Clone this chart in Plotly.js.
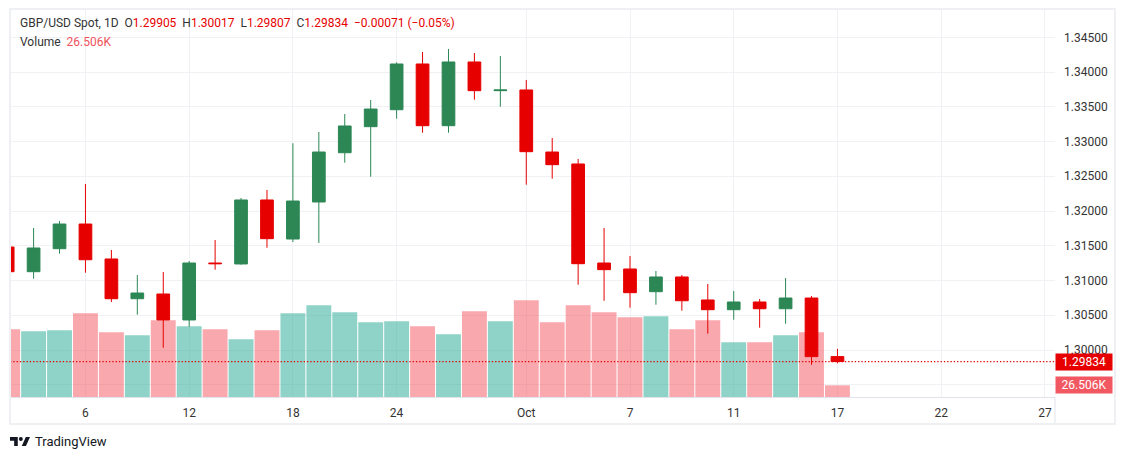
<!DOCTYPE html>
<html><head><meta charset="utf-8">
<script src="https://cdn.plot.ly/plotly-3.0.1.min.js"></script>
<style>
html,body{margin:0;padding:0;background:#fff;}
#wrap{position:relative;width:1125px;height:460px;}
#chart{width:1125px;height:460px;}
#frame{position:absolute;left:9px;top:8px;width:1107px;height:417px;box-sizing:border-box;border:2px solid #eef0f3;pointer-events:none;}
#logo{position:absolute;left:10px;top:437px;}
</style></head>
<body>
<div id="wrap">
<div id="chart"></div>
<div id="frame"></div>
<svg id="logo" width="20" height="9" viewBox="0 0 36 16"><path d="M0 0h14v16h-6.5V6.5H0z" fill="#131722"/><circle cx="19.5" cy="3.6" r="3.6" fill="#131722"/><path d="M28.5 0h7.5l-7.3 16h-7.5z" fill="#131722"/></svg>
</div>
<script>
const dates = ['2024-09-03','2024-09-04','2024-09-05','2024-09-06','2024-09-09','2024-09-10','2024-09-11','2024-09-12','2024-09-13',
  '2024-09-16','2024-09-17','2024-09-18','2024-09-19','2024-09-20','2024-09-23','2024-09-24','2024-09-25','2024-09-26','2024-09-27',
  '2024-09-30','2024-10-01','2024-10-02','2024-10-03','2024-10-04','2024-10-07','2024-10-08','2024-10-09','2024-10-10','2024-10-11',
  '2024-10-14','2024-10-15','2024-10-16','2024-10-17'];
const opens  = [1.31482,1.31127,1.31458,1.31813,1.31310,1.30738,1.30806,1.30432,1.31252,1.31238,1.32159,1.31597,1.32130,1.32839,1.33214,1.33458,1.34116,1.33228,1.34145,1.33732,1.33742,1.32849,1.32677,1.31252,1.31166,1.30839,1.31051,1.30720,1.30580,1.30691,1.30594,1.30748,1.29905];
const highs  = [1.31497,1.31756,1.31856,1.32389,1.31439,1.31079,1.31122,1.31281,1.31583,1.32188,1.32303,1.32975,1.33137,1.33396,1.33598,1.34140,1.34288,1.34332,1.34274,1.34231,1.33886,1.33051,1.32749,1.31756,1.31353,1.31137,1.31079,1.30950,1.30849,1.30734,1.31036,1.30777,1.30017];
const lows   = [1.31122,1.31026,1.31386,1.31112,1.30691,1.30508,1.30033,1.30335,1.31156,1.31228,1.31472,1.31554,1.31540,1.32695,1.32494,1.33329,1.33127,1.33127,1.33602,1.33501,1.32379,1.32465,1.30940,1.30709,1.30609,1.30652,1.30566,1.30235,1.30436,1.30321,1.30378,1.29788,1.29807];
const closes = [1.31127,1.31468,1.31813,1.31299,1.30738,1.30820,1.30432,1.31252,1.31242,1.32159,1.31602,1.32144,1.32849,1.33224,1.33468,1.34116,1.33228,1.34145,1.33732,1.33742,1.32854,1.32667,1.31242,1.31156,1.30825,1.31051,1.30709,1.30580,1.30691,1.30594,1.30748,1.29905,1.29834];
const volumesK = [153.4,148.8,151.1,189.6,146.6,139.8,173.8,160.2,153.4,130.7,151.1,189.6,207.7,191.9,169.2,171.5,160.2,142.0,194.2,171.5,219.1,169.2,207.7,191.9,180.6,182.8,153.4,173.8,123.9,123.9,139.8,146.6,26.506];
const tickLabels = ['6','12','18','24','Oct','7','11','17','22','27'];
const tickIndex  = [3,7,11,15,20,24,28,32,36,40];
const priceTicks = [1.295,1.300,1.305,1.310,1.315,1.320,1.325,1.330,1.335,1.340,1.345];

const UP = '#2c8755', DOWN = '#e60000';
const VUP = 'rgba(31,167,145,0.5)', VDOWN = 'rgba(243,81,91,0.5)';
const idx = dates.map((d,i)=>i);
const n = closes.length;
const lastO = opens[n-1], lastH = highs[n-1], lastL = lows[n-1], lastC = closes[n-1];
const chg = lastC - closes[n-2];
const pct = chg / closes[n-2] * 100;
const fmtSigned = (v,d) => (v < 0 ? '\u2212' : '+') + Math.abs(v).toFixed(d);
const red = s => '<span style="color:'+DOWN+'">'+s+'</span>';
const sp = '\u00a0\u00a0';
const line1 = 'GBP/USD Spot, 1D'+sp+'O'+red(lastO.toFixed(5))+sp+'H'+red(lastH.toFixed(5))+sp+'L'+red(lastL.toFixed(5))+sp+'C'+red(lastC.toFixed(5))+sp+red(fmtSigned(chg,5)+' ('+fmtSigned(pct,2)+'%)');
const lastV = volumesK[n-1].toFixed(3)+'K';
const line2 = 'Volume'+sp+'<span style="color:#f0525c">'+lastV+'</span>';

const volTrace = {
  type:'bar', x:idx, y:volumesK, yaxis:'y', xaxis:'x',
  marker:{color:closes.map((c,i)=> c >= opens[i] ? VUP : VDOWN), line:{width:0}},
  hoverinfo:'skip'
};
const candle = {
  type:'candlestick', x:idx, open:opens, high:highs, low:lows, close:closes,
  xaxis:'x', yaxis:'y2', whiskerwidth:0,
  increasing:{line:{color:UP,width:1}, fillcolor:UP},
  decreasing:{line:{color:DOWN,width:1}, fillcolor:DOWN},
  hoverinfo:'skip'
};

const layout = {
  width:1125, height:460,
  margin:{l:10, r:70, t:10, b:63, pad:0},
  paper_bgcolor:'#ffffff', plot_bgcolor:'#ffffff',
  showlegend:false,
  font:{family:'Roboto, sans-serif', size:12, color:'#333333'},
  boxgap:0.3, bargap:0.04,
  xaxis:{range:[0.09,40.39], tickmode:'array', tickvals:tickIndex, ticktext:tickLabels,
    showgrid:true, gridcolor:'#f0f1f4', gridwidth:1, zeroline:false, showline:true, linecolor:'#e0e3eb', linewidth:1,
    ticks:'', ticklabelstandoff:5, rangeslider:{visible:false}, fixedrange:true, tickfont:{size:12,color:'#333333'}},
  yaxis:{range:[0,877], visible:false, showgrid:false, zeroline:false, fixedrange:true},
  yaxis2:{overlaying:'y', side:'right', range:[1.293237,1.348929], tickmode:'array', tickvals:priceTicks,
    ticktext:priceTicks.map(v => v < lastC ? '' : v.toFixed(5)),
    showgrid:true, gridcolor:'#f0f1f4', gridwidth:1, zeroline:false, showline:false,
    ticks:'', ticklabelstandoff:8, fixedrange:true, tickfont:{size:12,color:'#333333'}},
  shapes:[
    {type:'line', xref:'paper', x0:0, x1:1, yref:'y2', y0:lastC, y1:lastC, line:{color:'#e00000', width:1.3, dash:'1.3px,2px'}},
    {type:'line', xref:'paper', x0:1, x1:1, yref:'paper', y0:0, y1:-0.0698, line:{color:'#e0e3eb', width:1}}
  ],
  annotations:[
    {xref:'paper', yref:'paper', x:0.00766, y:0.9664, xanchor:'left', yanchor:'middle', showarrow:false, text:line1, font:{size:12,color:'#333333'}},
    {xref:'paper', yref:'paper', x:0.00766, y:0.9173, xanchor:'left', yanchor:'middle', showarrow:false, text:line2, font:{size:12,color:'#333333'}},
    {xref:'paper', yref:'y2', x:1, y:lastC, xanchor:'left', yanchor:'middle', showarrow:false, text:lastC.toFixed(5),
      bgcolor:DOWN, width:54, height:14, borderpad:1, font:{size:12,color:'#ffffff'}},
    {xref:'paper', yref:'y', x:1, y:volumesK[n-1], xanchor:'left', yanchor:'middle', showarrow:false, text:lastV,
      bgcolor:'#f15862', width:54, height:14, borderpad:1, font:{size:12,color:'#ffffff'}},
    {xref:'paper', yref:'paper', x:0.022, y:-0.1137, xanchor:'left', yanchor:'middle', showarrow:false, text:'TradingView', font:{size:13,color:'#131722'}}
  ]
};
Plotly.newPlot('chart', [volTrace, candle], layout, {displayModeBar:false, staticPlot:true});
</script>
</body></html>
